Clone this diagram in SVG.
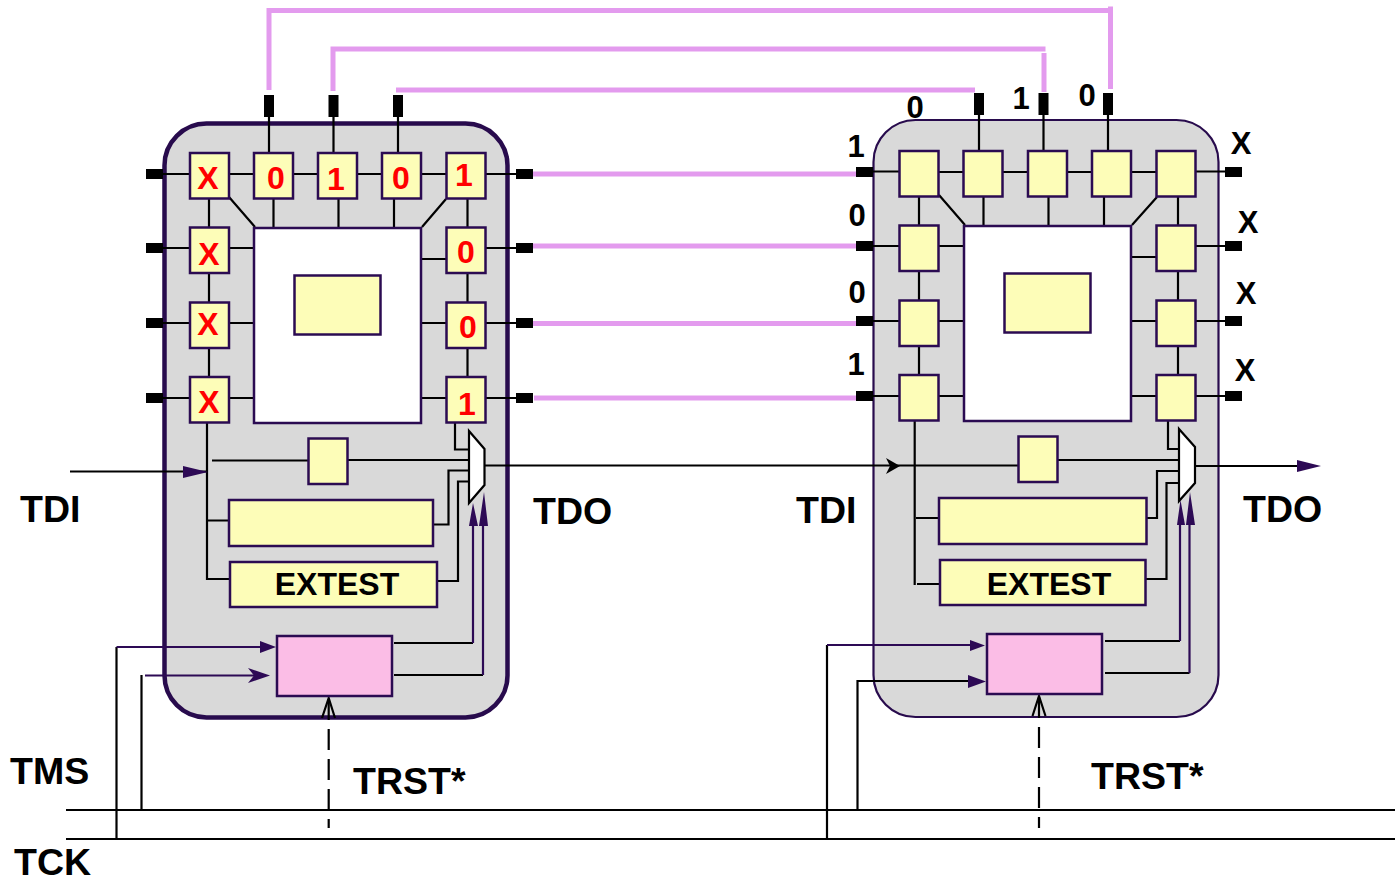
<svg xmlns="http://www.w3.org/2000/svg" width="1395" height="883" viewBox="0 0 1395 883">
<style>
.chip{fill:#d9d9d9;stroke:#280b4d}
.cell{fill:#fdfdb8;stroke:#2b0b52;stroke-width:2.5}
.core{fill:#fff;stroke:#2b0b52;stroke-width:2.5}
.ctl{fill:#fbbde6;stroke:#2b0b52;stroke-width:2.5}
.mux{fill:#fff;stroke:#000;stroke-width:2.2}
.pin{fill:#000}
.w{fill:none;stroke:#000;stroke-width:2.2}
.p{fill:none;stroke:#2d0a55;stroke-width:2.2}
.bus{fill:none;stroke:#e39bee;stroke-width:5}
.dash{fill:none;stroke:#000;stroke-width:2.2;stroke-dasharray:21 9}
.head{fill:#2d0a55}
.headk{fill:#000}
text{font-family:"Liberation Sans",Arial,sans-serif;font-weight:bold}
.v{font-size:32px;fill:#f00;text-anchor:middle}
.k{font-size:31px;fill:#000;text-anchor:middle}
.l{font-size:37.500px;fill:#000}
.e{font-size:32px;fill:#000;text-anchor:middle}
</style>
<g id="chip-left-body"><rect class="chip" stroke-width="4.500" x="164.500" y="123.500" width="343" height="594" rx="42"/></g>
<g id="chip-right-body"><rect class="chip" stroke-width="2.200" x="873.500" y="120" width="345" height="597" rx="42"/></g>
<g id="connectors">
<path class="bus" d="M269 90V10.500H1110.500M1110.500 6.500V89M333 91V49H1045.500M1044 53V92M396 90H975"/>
<path class="bus" d="M532 174H858M532 246H858M532 323.500H860M534 398H860"/>
<path class="w" d="M269 117V152M333.500 117V152M398 117V152"/>
<path class="w" d="M163 174H189M229 174H254M293 174H318M357 174H382M421 174H446M486 174H516M163 248H189M229 248H256M421 259H446M486 248H516M163 323H189M229 323H256M421 323H446M486 323H516M163 398H189M229 398H256M421 398H446M486 398H516"/>
<path class="w" d="M209 199V227M209 274V302M209 348V377M467.500 199V227M467.500 274V302M467.500 348V377M273.500 199V227M338.500 199V227M394 199V227M229 197L255 227M446 199L422 227"/>
<path class="w" d="M207 423V579H229M207 520.500H229M212 460.500H308M348 460H469M455 423V449.500H469M433 524.500H448.500V470.500H469M437 581H458V481.500H469"/>
<path class="w" d="M70 471.500H208M484 465.500H1018"/>
<path class="w" d="M394 643H473M394 675H483"/>
<path class="p" d="M473 643V525M483 675V525"/>
<path class="w" d="M116.500 838V647M141.500 810V675"/>
<path class="p" d="M116.500 647H262M145 675.500H255"/>
<path class="dash" d="M328.700 699V828"/>
<path class="w" d="M322 718L328.700 698L335 718"/>
<path class="w" d="M66 810H1395M66 839H1395"/>
<path class="w" d="M979 115V151M1043.500 115V151M1108 115V151"/>
<path class="w" d="M873 171.500H899M939 172H963M1003 172H1028M1067 172H1092M1131 172H1156M1196 171.500H1225M873 246H899M939 246H966M1131 257H1156M1196 246H1225M873 321H899M939 321H966M1131 321H1156M1196 321H1225M873 396H899M939 396H966M1131 396H1156M1196 396H1225"/>
<path class="w" d="M919 197V225M919 272V300M919 347V375M1178 197V225M1178 272V300M1178 347V375M983.500 197V225M1048.500 197V225M1104 197V225M939 195L965 225M1157 197L1132 225"/>
<path class="w" d="M914.700 421V585M916 518H940M917 584H943M1058 460H1179M1168 421V449H1179M1147 518H1157V471H1179M1146 579H1166.500V483H1179"/>
<path class="w" d="M1195 466H1300M1105 641H1180M1105 673H1189.500"/>
<path class="p" d="M1180 641V523M1189.500 673V523"/>
<path class="w" d="M827 838V645M857.500 810V681H970"/>
<path class="p" d="M827 645H972"/>
<path class="dash" d="M1039 697V828"/>
<path class="w" d="M1032.500 716L1039 696L1045.500 716"/>
<path class="head" d="M183 466L208 472L183 478ZM260 641L276 647L260 653ZM248 668L270 675.500L248 683L254 675.500ZM469 526L473 503L478 526ZM479 526L484 492L488 526Z"/>
<path class="headk" d="M886 458L900 466L886 474L890 466Z"/>
<path class="head" d="M970 640L985 645.500L970 651ZM968 675L986 681.500L968 688ZM1177 525L1180.500 500L1185 525ZM1186 525L1190 492L1195 525ZM1297 460L1321 466L1297 472Z"/>
</g>
<g id="L-pins" class="pin">
<rect x="264" y="95" width="10" height="22"/><rect x="328.500" y="95" width="10" height="22"/><rect x="393" y="95" width="10" height="22"/>
<rect x="146" y="169" width="17" height="10"/><rect x="146" y="243" width="17" height="10"/><rect x="146" y="318" width="17" height="10"/><rect x="146" y="393" width="17" height="10"/>
<rect x="516" y="169" width="17" height="10"/><rect x="516" y="243" width="17" height="10"/><rect x="516" y="318" width="17" height="10"/><rect x="516" y="393" width="17" height="10"/>
</g>
<g id="R-pins" class="pin">
<rect x="974" y="93" width="10" height="22"/><rect x="1038.500" y="93" width="10" height="22"/><rect x="1103" y="93" width="10" height="22"/>
<rect x="856" y="167" width="17" height="10"/><rect x="856" y="241" width="17" height="10"/><rect x="856" y="316" width="17" height="10"/><rect x="856" y="391" width="17" height="10"/>
<rect x="1225" y="167" width="17" height="10"/><rect x="1225" y="241" width="17" height="10"/><rect x="1225" y="316" width="17" height="10"/><rect x="1225" y="391" width="17" height="10"/>
</g>
<g id="L-core"><rect class="core" x="254" y="228" width="167" height="195"/><rect class="cell" x="294.500" y="275.500" width="86" height="59"/></g>
<g id="L-cell-1"><rect class="cell" x="190" y="153" width="39" height="45.500"/><text class="v" x="208" y="189">X</text></g>
<g id="L-cell-2"><rect class="cell" x="254" y="153" width="39" height="45.500"/><text class="v" x="276" y="189">0</text></g>
<g id="L-cell-3"><rect class="cell" x="318" y="153" width="39" height="45.500"/><text class="v" x="336" y="190">1</text></g>
<g id="L-cell-4"><rect class="cell" x="382" y="153" width="39" height="45.500"/><text class="v" x="401" y="189">0</text></g>
<g id="L-cell-5"><rect class="cell" x="446.500" y="153" width="39" height="45.500"/><text class="v" x="464" y="186">1</text></g>
<g id="L-cell-6"><rect class="cell" x="190" y="227.500" width="39" height="45.500"/><text class="v" x="209" y="265">X</text></g>
<g id="L-cell-7"><rect class="cell" x="190" y="302.500" width="39" height="45.500"/><text class="v" x="208" y="335">X</text></g>
<g id="L-cell-8"><rect class="cell" x="190" y="377" width="39" height="45.500"/><text class="v" x="209" y="413">X</text></g>
<g id="L-cell-9"><rect class="cell" x="446.500" y="227.500" width="39" height="45.500"/><text class="v" x="466" y="263">0</text></g>
<g id="L-cell-10"><rect class="cell" x="446.500" y="302.500" width="39" height="45.500"/><text class="v" x="468" y="338">0</text></g>
<g id="L-cell-11"><rect class="cell" x="446.500" y="377" width="39" height="45.500"/><text class="v" x="467" y="415">1</text></g>
<g id="L-bypass"><rect class="cell" x="308.500" y="438.500" width="39" height="45.500"/></g>
<g id="L-reg"><rect class="cell" x="229" y="500" width="204" height="46"/></g>
<g id="L-extest"><rect class="cell" x="230" y="562" width="207" height="45"/><text class="e" x="337" y="595">EXTEST</text></g>
<g id="L-ctl"><rect class="ctl" x="277" y="636" width="115" height="60"/></g>
<g id="L-mux"><polygon class="mux" points="469,431 484.500,449 484.500,485 469,503"/></g>
<g id="R-core"><rect class="core" x="964" y="226" width="167" height="195"/><rect class="cell" x="1004.500" y="273.500" width="86" height="59"/></g>
<g id="R-cell-1"><rect class="cell" x="899.500" y="151" width="39" height="45.500"/></g>
<g id="R-cell-2"><rect class="cell" x="963.500" y="151" width="39" height="45.500"/></g>
<g id="R-cell-3"><rect class="cell" x="1028" y="151" width="39" height="45.500"/></g>
<g id="R-cell-4"><rect class="cell" x="1092" y="151" width="39" height="45.500"/></g>
<g id="R-cell-5"><rect class="cell" x="1156.500" y="151" width="39" height="45.500"/></g>
<g id="R-cell-6"><rect class="cell" x="899.500" y="225.500" width="39" height="45.500"/></g>
<g id="R-cell-7"><rect class="cell" x="899.500" y="300.500" width="39" height="45.500"/></g>
<g id="R-cell-8"><rect class="cell" x="899.500" y="375" width="39" height="45.500"/></g>
<g id="R-cell-9"><rect class="cell" x="1156.500" y="225.500" width="39" height="45.500"/></g>
<g id="R-cell-10"><rect class="cell" x="1156.500" y="300.500" width="39" height="45.500"/></g>
<g id="R-cell-11"><rect class="cell" x="1156.500" y="375" width="39" height="45.500"/></g>
<g id="R-bypass"><rect class="cell" x="1018.500" y="436.500" width="39" height="45.500"/></g>
<g id="R-reg"><rect class="cell" x="939" y="498" width="207.500" height="46"/></g>
<g id="R-extest"><rect class="cell" x="940" y="560" width="205.500" height="45"/><text class="e" x="1049" y="595">EXTEST</text></g>
<g id="R-ctl"><rect class="ctl" x="987" y="634" width="115" height="60"/></g>
<g id="R-mux"><polygon class="mux" points="1179,429 1195,447 1195,483 1179,501"/></g>
<g id="labels">
<text class="l" x="20" y="522">TDI</text><text class="l" x="533" y="524">TDO</text>
<text class="l" x="796" y="523">TDI</text><text class="l" x="1243" y="522">TDO</text>
<text class="l" x="10" y="784">TMS</text><text class="l" x="14" y="875">TCK</text>
<text class="l" x="353" y="794">TRST*</text><text class="l" x="1091" y="789">TRST*</text>
<text class="k" x="915" y="118">0</text><text class="k" x="1021" y="109">1</text><text class="k" x="1087" y="106">0</text>
<text class="k" x="856" y="157">1</text><text class="k" x="857" y="226">0</text><text class="k" x="857" y="303">0</text><text class="k" x="856" y="375">1</text>
<text class="k" x="1241" y="154">X</text><text class="k" x="1248" y="233">X</text><text class="k" x="1246" y="304">X</text><text class="k" x="1245" y="381">X</text>
</g>
</svg>
